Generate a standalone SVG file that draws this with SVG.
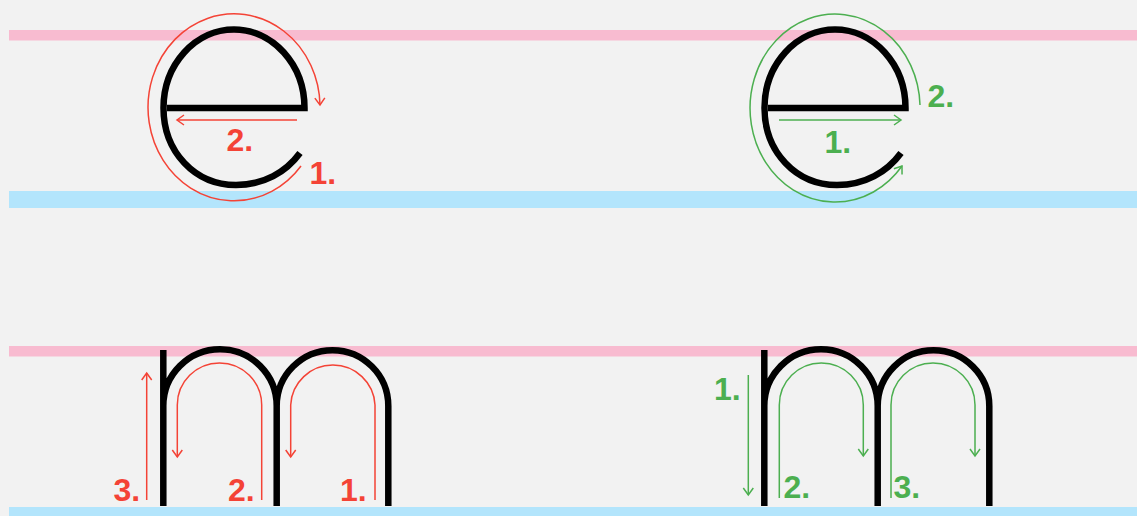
<svg xmlns="http://www.w3.org/2000/svg" width="1137" height="516" viewBox="0 0 1137 516">
  <style>
    .pink { fill: #f8bbd0; }
    .blue { fill: #b3e5fc; }
    .glyph { fill: none; stroke: #000; stroke-width: 6.5; stroke-linecap: butt; }
    .r { fill: none; stroke: #f44336; stroke-width: 1.5; }
    .g { fill: none; stroke: #4caf50; stroke-width: 1.5; }
    .rm { marker-end: url(#ar); }
    .gm { marker-end: url(#ag); }
    .lbl { font-family: "Liberation Sans", Arial, sans-serif; font-weight: bold; font-size: 32px; }
    .lr { fill: #f44336; }
    .lg { fill: #4caf50; }
  </style>
  <defs>
    <marker id="ar" markerUnits="userSpaceOnUse" viewBox="-9 -7 11 14" refX="0" refY="0" markerWidth="11" markerHeight="14" orient="auto">
      <path d="M-7,-5 L0,0 L-7,5" fill="none" stroke="#f44336" stroke-width="1.5"/>
    </marker>
    <marker id="ag" markerUnits="userSpaceOnUse" viewBox="-9 -7 11 14" refX="0" refY="0" markerWidth="11" markerHeight="14" orient="auto">
      <path d="M-7,-5 L0,0 L-7,5" fill="none" stroke="#4caf50" stroke-width="1.5"/>
    </marker>
  </defs>
  <rect x="0" y="0" width="1137" height="516" fill="#f2f2f2"/>
  <g id="guides">
    <rect class="pink" x="9" y="30" width="1128" height="10.5"/>
    <rect class="blue" x="9" y="191" width="1128" height="17"/>
    <rect class="pink" x="9" y="346" width="1128" height="10.5"/>
    <rect class="blue" x="9" y="507" width="1128" height="9"/>
  </g>
  <g id="e-wrong">
    <path class="glyph" d="M167 108 H304.5 A70.5 78.5 0 0 0 163.5 108 C163.5 152 195 185 236 185 C264 185 286 172 300 153"/>
    <path class="r rm" d="M301 166 A86 93.5 0 1 1 320 105"/>
    <path class="r rm" d="M297 120 H177"/>
    <text class="lbl lr" x="309.5" y="184">1.</text>
    <text class="lbl lr" x="226.5" y="151">2.</text>
  </g>
  <g id="e-right">
    <path class="glyph" d="M768 108 H905.5 A70.5 78.5 0 0 0 764.5 108 C764.5 152 796 185 837 185 C865 185 887 172 901 153"/>
    <path class="g gm" d="M779 120 H901"/>
    <path class="g gm" d="M920 105 A85 94 0 1 0 902 166"/>
    <text class="lbl lg" x="824.5" y="153">1.</text>
    <text class="lbl lg" x="927.5" y="106.5">2.</text>
  </g>
  <g id="m-wrong">
    <path class="glyph" d="M163.3 350 V506 M163.3 406 A56.7 56.7 0 0 1 276.7 406 V506 M276.7 406 A55.8 55.8 0 0 1 388.3 406 V506"/>
    <path class="r rm" d="M146.7 500 V373"/>
    <path class="r rm" d="M261.7 500 V405 A42.2 42 0 0 0 177.3 405 V457"/>
    <path class="r rm" d="M375 500 V405 A42.2 42 0 0 0 290.7 405 V457"/>
    <text class="lbl lr" x="113.5" y="500.5">3.</text>
    <text class="lbl lr" x="228" y="500.5">2.</text>
    <text class="lbl lr" x="340" y="500.5">1.</text>
  </g>
  <g id="m-right">
    <path class="glyph" d="M764.3 350 V506 M764.3 406 A56.7 56.7 0 0 1 877.7 406 V506 M877.7 406 A55.8 55.8 0 0 1 989.3 406 V506"/>
    <path class="g gm" d="M748.3 375 V495"/>
    <path class="g gm" d="M779.3 498 V405 A42 42 0 0 1 863.3 405 V456"/>
    <path class="g gm" d="M891 498 V405 A42 42 0 0 1 975 405 V456"/>
    <text class="lbl lg" x="714" y="399.5">1.</text>
    <text class="lbl lg" x="783.5" y="497.5">2.</text>
    <text class="lbl lg" x="893.5" y="497.5">3.</text>
  </g>
</svg>
